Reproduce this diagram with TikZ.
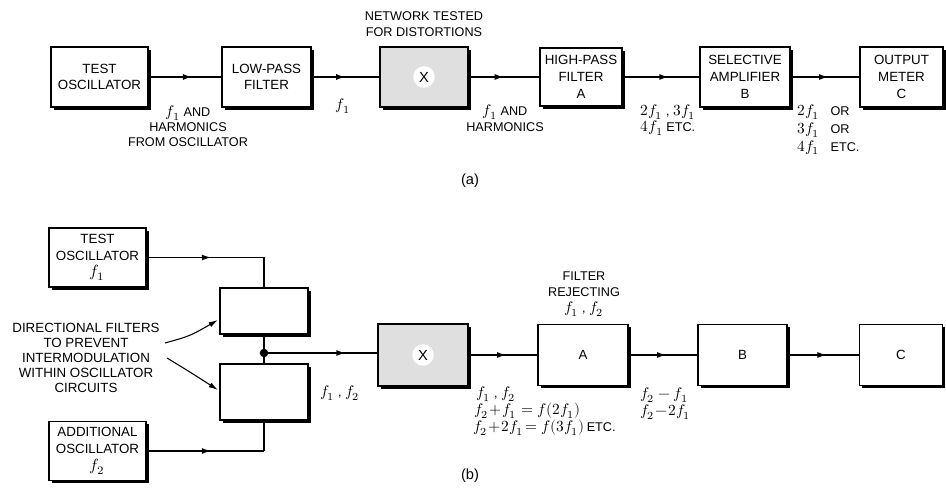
\documentclass[tikz,border=0pt]{standalone}
\usepackage{fontspec}
\usepackage{unicode-math}
\setmainfont{Liberation Sans}
\setmathfont{Latin Modern Math}[Scale=1.22]
\usetikzlibrary{arrows.meta,shadows,decorations.markings,calc}
\begin{document}
\begin{tikzpicture}[x=0.75pt,y=-0.75pt,
  blk/.style 2 args={draw, line width=0.9pt, fill=white, inner sep=0pt, align=center,
     minimum width=#1*0.75pt, minimum height=#2*0.75pt,
     drop shadow={shadow xshift=2pt, shadow yshift=-2.2pt, opacity=1, fill=black},
     font=\fontsize{10}{12.5}\selectfont},
  grayfill/.style={fill=gray!25},
  xlbl/.style={circle, fill=white, inner sep=2pt, font=\fontsize{11}{12}\selectfont},
  lbl/.style={font=\fontsize{9.5}{11.5}\selectfont, align=center, inner sep=0pt},
  lbll/.style={font=\fontsize{9.5}{11.5}\selectfont, align=left, inner sep=0pt, anchor=west},
  midarrow/.style={line width=1.1pt, postaction={decorate},
     decoration={markings, mark=at position #1 with {\arrow{Latex[length=7pt,width=4.5pt]}}}},
  midarrow/.default=0.6,
  wire/.style={line width=1.1pt},
  ptr/.style={line width=0.8pt, -{Latex[length=7pt,width=4pt]}}
]
\useasboundingbox (0,0) rectangle (946,488);

% ---------------- panel (a)
\node[blk={97}{60}] (tosc) at (99.5,77) {TEST\\OSCILLATOR};
\node[blk={89}{60}] (lpf) at (266.5,77) {LOW-PASS\\FILTER};
\node[blk={88}{60}, grayfill] (xa) at (424,77) {};
\node[xlbl] (xal) at (xa) {X};
\node[blk={82}{58}] (hpf) at (581,77) {HIGH-PASS\\FILTER\\A};
\node[blk={90}{60}] (sel) at (745,77) {SELECTIVE\\AMPLIFIER\\B};
\node[blk={83}{60}] (met) at (901.5,77) {OUTPUT\\METER\\C};

\draw[midarrow] (tosc.east) -- (lpf.west);
\draw[midarrow=0.5] (lpf.east) -- (xa.west);
\draw[midarrow=0.5] (xa.east) -- (hpf.west);
\draw[midarrow=0.6] (hpf.east) -- (sel.west);
\draw[midarrow=0.55] (sel.east) -- (met.west);

\node[lbl, font=\fontsize{9.5}{11.3}\selectfont] (la1) at (188,126) {$f_1$ AND\\HARMONICS\\FROM OSCILLATOR};
\node[lbl] (la2) at (343,106) {$f_1$};
\node[lbl] (la3) at (424,24) {NETWORK TESTED\\FOR DISTORTIONS};
\node[lbl] (la4) at (505,118) {$f_1$ AND\\HARMONICS};
\node[lbl, font=\fontsize{9.5}{12.5}\selectfont] (la5) at (668,120) {$2f_1$ , $3f_1$\\$4f_1$ ETC.};
\node[lbll, font=\fontsize{9.5}{13.2}\selectfont] (la6) at (797,130)
  {\makebox[25pt][l]{$2f_1$}OR\\\makebox[25pt][l]{$3f_1$}OR\\\makebox[25pt][l]{$4f_1$}ETC.};
\node[lbl, font=\fontsize{11}{12}\selectfont] (capa) at (470,181) {(a)};

% ---------------- panel (b)
\node[blk={97}{59}] (osc1) at (97.5,257.5) {TEST\\OSCILLATOR\\$f_1$};
\node[blk={97}{59}] (osc2) at (97.5,451) {ADDITIONAL\\OSCILLATOR\\$f_2$};
\node[blk={88}{46}] (df1) at (264,311) {};
\node[blk={88}{56}] (df2) at (264,392) {};
\node[blk={90}{62}, grayfill] (xb) at (423,355) {};
\node[xlbl] (xbl) at (xb) {X};
\node[blk={90}{61}] (ab) at (583,355) {A};
\node[blk={89}{61}] (bb) at (742.5,355) {B};
\node[blk={83}{61}] (cb) at (901,355) {C};

\coordinate (c1) at (264,257.5);
\coordinate (c2) at (264,451);
\coordinate (jn) at (264,353);

\draw[midarrow=0.55] (osc1.east) -- (c1);
\draw[wire] (c1) -- (df1.north);
\draw[midarrow=0.55] (osc2.east) -- (c2);
\draw[wire] (c2) -- (df2.south);
\draw[wire] (df1.south) -- (df2.north);
\fill (jn) circle (3.2pt);
\draw[midarrow=0.72] (jn) -- (xb.west |- jn);
\draw[midarrow=0.55] (xb.east) -- (ab.west);
\draw[midarrow=0.55] (ab.east) -- (bb.west);
\draw[midarrow=0.55] (bb.east) -- (cb.west);

\node[lbl, font=\fontsize{10}{11.25}\selectfont] (dirtxt) at (86,358)
  {DIRECTIONAL FILTERS\\TO PREVENT\\INTERMODULATION\\WITHIN OSCILLATOR\\CIRCUITS};
\coordinate (p1s) at (165,343);
\coordinate (p1e) at (218,320);
\coordinate (p2s) at (167,358);
\coordinate (p2e) at (218,390);
\draw[ptr] (p1s) .. controls (190,336) .. (p1e);
\draw[ptr] (p2s) .. controls (190,372) .. (p2e);

\node[lbl] (lb1) at (340,393) {$f_1$ , $f_2$};
\node[lbl, font=\fontsize{9.5}{12}\selectfont] (lb2) at (584,294) {FILTER\\REJECTING\\$f_1$ , $f_2$};
\node[lbll] (lb3a) at (476,394) {$f_1$ , $f_2$};
\node[lbll] (lb3b) at (474,411) {$f_2\!+\!f_1 = f(2f_1)$};
\node[lbll] (lb3c) at (473,428) {$f_2\!+\!2f_1 \!= f(3f_1)$\,ETC.};
\node[lbll] (lb4a) at (640,395) {$f_2-f_1$};
\node[lbll] (lb4b) at (640,412) {$f_2\!-\!2f_1$};
\node[lbl, font=\fontsize{11}{12}\selectfont] (capb) at (470,476) {(b)};
\end{tikzpicture}
\end{document}
